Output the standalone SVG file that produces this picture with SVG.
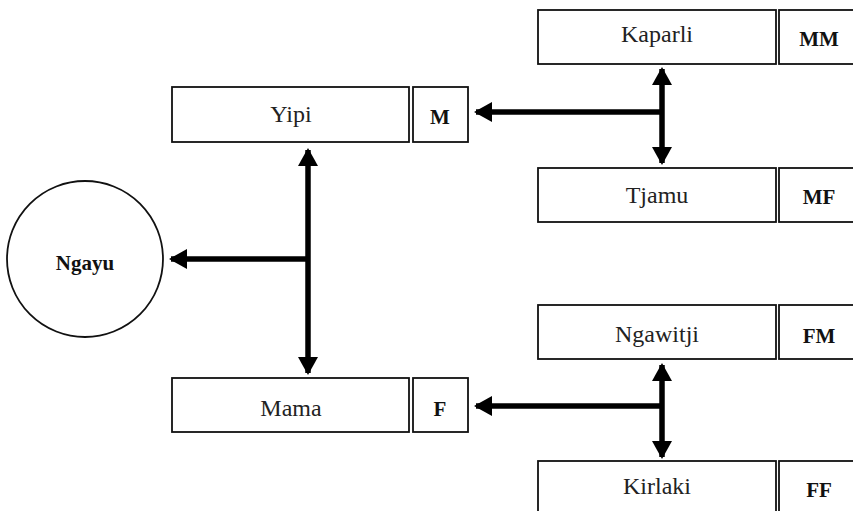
<svg xmlns="http://www.w3.org/2000/svg" width="853" height="511" viewBox="0 0 853 511">
<style>
.box{fill:#fff;stroke:#111;stroke-width:1.8}
.name{font-family:"Liberation Serif","DejaVu Serif",serif;font-size:24px;fill:#222;text-anchor:middle}
.tag{font-family:"Liberation Serif","DejaVu Serif",serif;font-size:21px;font-weight:bold;fill:#111;text-anchor:middle}
.conn{stroke:#000;stroke-width:5.5;fill:none}
</style>
<defs>
<marker id="ah" markerUnits="userSpaceOnUse" markerWidth="18" markerHeight="20" refX="16" refY="10" orient="auto-start-reverse" viewBox="0 0 18 20">
<path d="M0,0 L18,10 L0,20 Z" fill="#000"/>
</marker>
</defs>
<rect width="853" height="511" fill="#fff"/>
<g id="connectors">
<line class="conn" x1="662" y1="112" x2="476" y2="112" marker-end="url(#ah)"/>
<line class="conn" x1="662" y1="69" x2="662" y2="163" marker-start="url(#ah)" marker-end="url(#ah)"/>
<line class="conn" x1="308" y1="150" x2="308" y2="373" marker-start="url(#ah)" marker-end="url(#ah)"/>
<line class="conn" x1="308" y1="259" x2="171" y2="259" marker-end="url(#ah)"/>
<line class="conn" x1="662" y1="406" x2="476" y2="406" marker-end="url(#ah)"/>
<line class="conn" x1="662" y1="365" x2="662" y2="457" marker-start="url(#ah)" marker-end="url(#ah)"/>
</g>
<g id="kaparli"><rect class="box" x="538" y="10" width="238" height="54"/><text class="name" x="657" y="42">Kaparli</text></g>
<g id="mm"><rect class="box" x="779" y="10" width="80" height="54"/><text class="tag" x="819" y="46">MM</text></g>
<g id="tjamu"><rect class="box" x="538" y="168" width="238" height="54"/><text class="name" x="657" y="203">Tjamu</text></g>
<g id="mf"><rect class="box" x="779" y="168" width="80" height="54"/><text class="tag" x="819" y="204">MF</text></g>
<g id="yipi"><rect class="box" x="172" y="87" width="237" height="55"/><text class="name" x="291" y="122">Yipi</text></g>
<g id="m"><rect class="box" x="413" y="87" width="55" height="55"/><text class="tag" x="440" y="124">M</text></g>
<g id="ngayu"><circle class="box" cx="85" cy="259" r="78"/><text class="tag" x="85" y="270">Ngayu</text></g>
<g id="mama"><rect class="box" x="172" y="378" width="237" height="54"/><text class="name" x="291" y="416">Mama</text></g>
<g id="f"><rect class="box" x="413" y="378" width="55" height="54"/><text class="tag" x="440" y="416">F</text></g>
<g id="ngawitji"><rect class="box" x="538" y="305" width="238" height="54"/><text class="name" x="657" y="342">Ngawitji</text></g>
<g id="fm"><rect class="box" x="779" y="305" width="80" height="54"/><text class="tag" x="819" y="343">FM</text></g>
<g id="kirlaki"><rect class="box" x="538" y="461" width="238" height="60"/><text class="name" x="657" y="494">Kirlaki</text></g>
<g id="ff"><rect class="box" x="779" y="461" width="80" height="60"/><text class="tag" x="819" y="497">FF</text></g>
</svg>
